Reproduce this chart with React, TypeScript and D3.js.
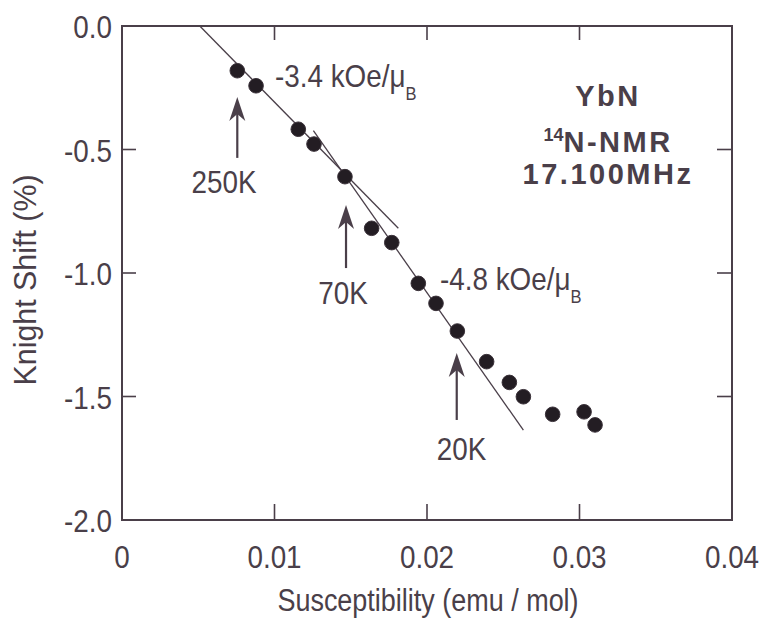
import React from "react";
import * as d3 from "d3";

// ---- data ----
const susceptibility = [0.00756, 0.00879, 0.01156, 0.01259, 0.01462, 0.01637, 0.01769, 0.01943, 0.02059, 0.02199, 0.02391, 0.0254, 0.02632, 0.02824, 0.0303, 0.03102];
const knightShift = [-0.181, -0.242, -0.418, -0.478, -0.61, -0.819, -0.877, -1.042, -1.123, -1.235, -1.359, -1.443, -1.501, -1.572, -1.562, -1.615];

// fitted lines (two end points each, data units)
const fitLabels = ["-3.4 kOe/μ", "-4.8 kOe/μ"];
const fitX0 = [0.0051, 0.01255];
const fitY0 = [0.0, -0.424];
const fitX1 = [0.01812, 0.02632];
const fitY1 = [-0.819, -1.636];
const fitLabelX = [0.01003, 0.02085];
const fitLabelY = [-0.247, -1.069];

// temperature arrows
const tempLabels = ["250K", "70K", "20K"];
const arrowX = [0.00756, 0.01469, 0.02195];
const arrowTipY = [-0.287, -0.725, -1.324];
const arrowBaseY = [-0.534, -0.98, -1.595];
const tempLabelX = [0.00669, 0.01449, 0.02227];
const tempLabelY = [-0.676, -1.126, -1.757];

const xTicks = [0, 0.01, 0.02, 0.03, 0.04];
const xTickLabels = ["0", "0.01", "0.02", "0.03", "0.04"];
const yTicks = [0, -0.5, -1.0, -1.5, -2.0];
const yTickLabels = ["0.0", "-0.5", "-1.0", "-1.5", "-2.0"];

const xTitle = "Susceptibility (emu / mol)";
const yTitle = "Knight Shift (%)";

const W = 761;
const H = 619;
const M = { left: 122, right: 732, top: 26, bottom: 520 };

const INK = "#4a3f49";
const DOT = "#231d23";
const FONT = "'Liberation Sans', Arial, Helvetica, sans-serif";
const SX = 0.87;

function NText(props: { x: number; y: number; size: number; anchor?: string; children: React.ReactNode; rotate?: number; sx?: number }) {
  const { x, y, size, anchor = "start", children, rotate = 0, sx = SX } = props;
  return (
    <text
      transform={`translate(${x},${y}) rotate(${rotate}) scale(${sx},1)`}
      fontFamily={FONT}
      fontSize={size}
      fill={INK}
      textAnchor={anchor as any}
    >
      {children}
    </text>
  );
}

export default function App() {
  const x = d3.scaleLinear().domain([0, 0.04]).range([M.left, M.right]);
  const y = d3.scaleLinear().domain([0, -2]).range([M.top, M.bottom]);
  const line = d3.line<[number, number]>().x((d) => x(d[0])).y((d) => y(d[1]));

  const innerTicksX = xTicks.slice(1, -1);
  const innerTicksY = yTicks.slice(1, -1);

  return (
    <svg width={W} height={H} style={{ position: "absolute", left: 0, top: 0, background: "#fff" }}>
      <rect x={0} y={0} width={W} height={H} fill="#ffffff" />
      {/* frame */}
      <rect x={M.left} y={M.top} width={M.right - M.left} height={M.bottom - M.top} fill="none" stroke={INK} strokeWidth={2} />
      {/* ticks */}
      {innerTicksX.map((t, i) => (
        <g key={"xt" + i}>
          <line x1={x(t)} x2={x(t)} y1={y(-2)} y2={y(-2) - 16} stroke={INK} strokeWidth={1.6} />
          <line x1={x(t)} x2={x(t)} y1={y(0)} y2={y(0) + 14} stroke={INK} strokeWidth={1.6} />
        </g>
      ))}
      {innerTicksY.map((t, i) => (
        <g key={"yt" + i}>
          <line x1={x(0)} x2={x(0) + 14} y1={y(t)} y2={y(t)} stroke={INK} strokeWidth={1.6} />
          <line x1={x(0.04)} x2={x(0.04) - 15} y1={y(t)} y2={y(t)} stroke={INK} strokeWidth={1.6} />
        </g>
      ))}
      {/* tick labels */}
      {xTicks.map((t, i) => (
        <NText key={"xl" + i} x={x(t)} y={568} size={32} anchor="middle">
          {xTickLabels[i]}
        </NText>
      ))}
      {yTicks.map((t, i) => (
        <NText key={"yl" + i} x={112} y={y(t) + 12} size={32} anchor="end">
          {yTickLabels[i]}
        </NText>
      ))}
      {/* axis titles */}
      <NText x={428} y={611} size={31} anchor="middle">
        {xTitle}
      </NText>
      <NText x={36} y={280} size={31} anchor="middle" rotate={-90} sx={0.98}>
        {yTitle}
      </NText>

      {/* fit lines */}
      {fitX0.map((_, i) => (
        <path
          key={"fit" + i}
          d={line([
            [fitX0[i], fitY0[i]],
            [fitX1[i], fitY1[i]],
          ]) || ""}
          stroke={INK}
          strokeWidth={1.3}
          fill="none"
        />
      ))}
      {fitLabels.map((lab, i) => (
        <g key={"fl" + i}>
          <NText x={x(fitLabelX[i])} y={y(fitLabelY[i])} size={32} anchor="start">
            <tspan>{lab}</tspan>
            <tspan fontSize={19} dy={13}>B</tspan>
          </NText>
        </g>
      ))}

      {/* data points */}
      {susceptibility.map((s, i) => (
        <circle key={"p" + i} cx={x(s)} cy={y(knightShift[i])} r={7.3} fill={DOT} stroke="#3a3139" strokeWidth={1} />
      ))}

      {/* arrows */}
      {arrowX.map((ax, i) => {
        const px = x(ax);
        const tip = y(arrowTipY[i]);
        const base = y(arrowBaseY[i]);
        return (
          <g key={"ar" + i}>
            <line x1={px} x2={px} y1={base} y2={tip + 16} stroke={INK} strokeWidth={2.2} />
            <path d={`M${px},${tip} L${px - 8},${tip + 24} L${px},${tip + 17} L${px + 8},${tip + 24} Z`} fill={INK} />
          </g>
        );
      })}
      {tempLabels.map((lab, i) => (
        <NText key={"tl" + i} x={x(tempLabelX[i])} y={y(tempLabelY[i])} size={32} anchor="middle">
          {lab}
        </NText>
      ))}

      {/* sample info */}
      <g fontFamily={FONT} fontWeight="bold" fill={INK} textAnchor="middle" fontSize={29} letterSpacing={2.5}>
        <text x={608} y={106}>YbN</text>
        <text x={608} y={152}>
          <tspan fontSize={18} dy={-11} letterSpacing={0}>14</tspan>
          <tspan dy={11}>N-NMR</tspan>
        </text>
        <text x={608} y={184}>17.100MHz</text>
      </g>
    </svg>
  );
}
